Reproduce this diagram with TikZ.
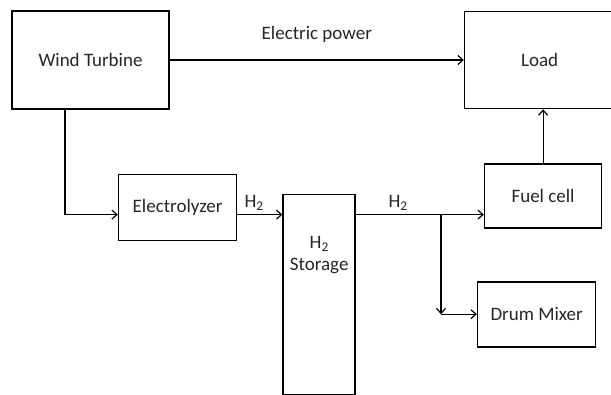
\documentclass[tikz,border=0pt]{standalone}
\usepackage{fontspec}
\setmainfont{Carlito}
\usetikzlibrary{positioning,arrows.meta}
\tikzstyle{block} = [rectangle, draw, line width=1.6pt, fill=white, text=black!85, align=center]
\tikzstyle{line} = [draw, -{Straight Barb[length=5pt,width=9pt]}, line width=1.2pt]

\begin{document}
\begin{tikzpicture}[font=\fontsize{19}{22}\selectfont]
        \useasboundingbox (0,0) rectangle (611pt,-394pt);
        % Nodes
        \node [block, minimum width=157pt, minimum height=98pt] (wt) at (90.5pt,-60pt) {Wind Turbine};
        \node [block, minimum width=150pt, minimum height=97pt, right=294pt of wt] (load) {Load};
        \node [block, minimum width=118pt, minimum height=66pt, below right=64pt and -52pt of wt] (elec) {Electrolyzer};
        \node [block, minimum width=72pt, minimum height=200pt, anchor=north west,
               label={[align=center, anchor=north, yshift=-39pt, text=black!85]north:H\textsubscript{2}\\Storage}]
               (storage) at ([xshift=45pt, yshift=-20pt]elec.north east) {};
        \node [block, minimum width=117pt, minimum height=64pt, below=54pt of load, xshift=3.5pt] (fuel) {Fuel cell};
        \node [block, minimum width=118pt, minimum height=65pt, below=52pt of fuel, xshift=-6.5pt] (mixer) {Drum Mixer};

        % Hydrogen line
        \coordinate (feed) at ([yshift=-7pt]elec.west);
        \coordinate (tee) at ([xshift=85pt]storage.east |- feed);
        \coordinate (bend) at (tee |- mixer.west);

        % Paths
        \path [line] (wt) -- node [above=14pt, text=black!85] {Electric power} (load);
        \path [line] ([xshift=-25.5pt]wt.south) |- (feed);
        \path [line] (elec.east |- feed) -- node [pos=0.37, above, text=black!85] {H\textsubscript{2}} (storage.west |- feed);
        \path [line] (storage.east |- feed) -- node [pos=0.33, above, text=black!85] {H\textsubscript{2}} (fuel.west |- feed);
        \path [line] (tee) -- (bend);
        \path [line] (bend) -- (mixer.west);
        \path [line] (fuel.north) -- (fuel.north |- load.south);
    \end{tikzpicture}
\end{document}
